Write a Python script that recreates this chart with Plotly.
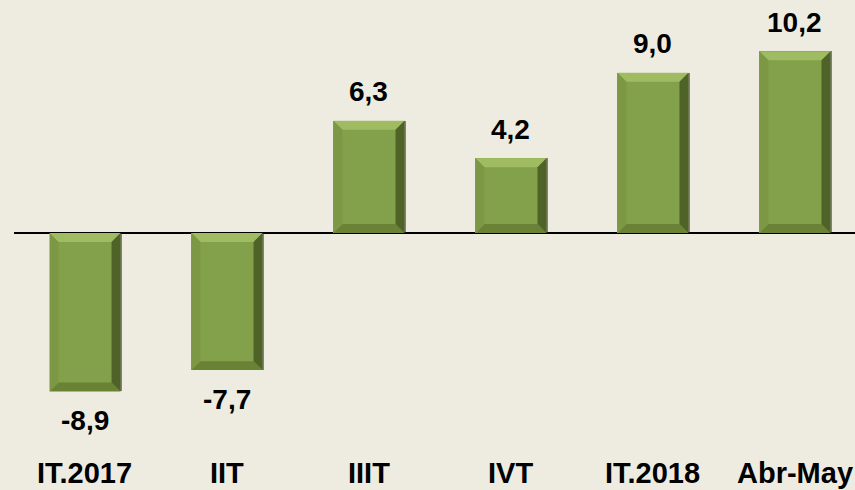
import plotly.graph_objects as go

categories = ["IT.2017", "IIT", "IIIT", "IVT", "IT.2018", "Abr-May"]
values = [-8.9, -7.7, 6.3, 4.2, 9.0, 10.2]
value_labels = ["-8,9", "-7,7", "6,3", "4,2", "9,0", "10,2"]

BG = "#EEECE1"
MAIN = "#83A04A"
TOP = "#A0BC62"
LEFT = "#7C9844"
RIGHT = "#4F6228"
BOTTOM = "#6A8236"
FONT = "Arial, Liberation Sans, sans-serif"

xs = list(range(len(categories)))
bw = 0.5
dx = 0.063
dy = 0.5

fig = go.Figure()
# shadow
fig.add_trace(go.Bar(x=[x + 0.012 for x in xs], y=values, width=bw,
                     marker=dict(color="rgba(40,45,20,0.55)", line=dict(width=0)),
                     hoverinfo="skip", showlegend=False))
fig.add_trace(go.Bar(x=xs, y=values, width=bw,
                     marker=dict(color=MAIN, line=dict(width=0)),
                     showlegend=False))

def path(pts):
    return "M " + " L ".join(f"{a},{b}" for a, b in pts) + " Z"

shapes = []
for x, v in zip(xs, values):
    x0, x1 = x - bw / 2, x + bw / 2
    yt, yb = max(v, 0), min(v, 0)
    shapes.append(dict(type="path", xref="x", yref="y", line=dict(width=0), fillcolor=TOP,
                       path=path([(x0, yt), (x1, yt), (x1 - dx, yt - dy), (x0 + dx, yt - dy)])))
    shapes.append(dict(type="path", xref="x", yref="y", line=dict(width=0), fillcolor=BOTTOM,
                       path=path([(x0, yb), (x1, yb), (x1 - dx, yb + dy), (x0 + dx, yb + dy)])))
    shapes.append(dict(type="path", xref="x", yref="y", line=dict(width=0), fillcolor=LEFT,
                       path=path([(x0, yb), (x0, yt), (x0 + dx, yt - dy), (x0 + dx, yb + dy)])))
    shapes.append(dict(type="path", xref="x", yref="y", line=dict(width=0), fillcolor=RIGHT,
                       path=path([(x1, yb), (x1, yt), (x1 - dx, yt - dy), (x1 - dx, yb + dy)])))

annotations = []
for x, v, lab in zip(xs, values, value_labels):
    annotations.append(dict(x=x, y=v, xref="x", yref="y", text=f"<b>{lab}</b>",
                            showarrow=False, yshift=29 if v >= 0 else -29,
                            font=dict(family=FONT, size=28, color="black")))
for x, c in zip(xs, categories):
    annotations.append(dict(x=x, y=0, xref="x", yref="paper", text=f"<b>{c}</b>",
                            showarrow=False, yanchor="bottom", borderpad=0,
                            font=dict(family=FONT, size=29, color="black")))

fig.update_layout(
    width=855, height=490,
    margin=dict(l=14, r=0, t=0, b=0),
    paper_bgcolor=BG, plot_bgcolor=BG,
    barmode="overlay", bargap=0,
    shapes=shapes, annotations=annotations,
    xaxis=dict(range=[-0.5, 5.423], showgrid=False, zeroline=False,
               showticklabels=False, fixedrange=True),
    yaxis=dict(range=[-14.44, 13.09], showgrid=False, zeroline=True,
               zerolinecolor="black", zerolinewidth=1.6,
               showticklabels=False, fixedrange=True),
)

fig.write_html("out.html", config={"displayModeBar": False},
               post_script="document.body.style.margin='0';document.body.style.background='%s';" % BG)
